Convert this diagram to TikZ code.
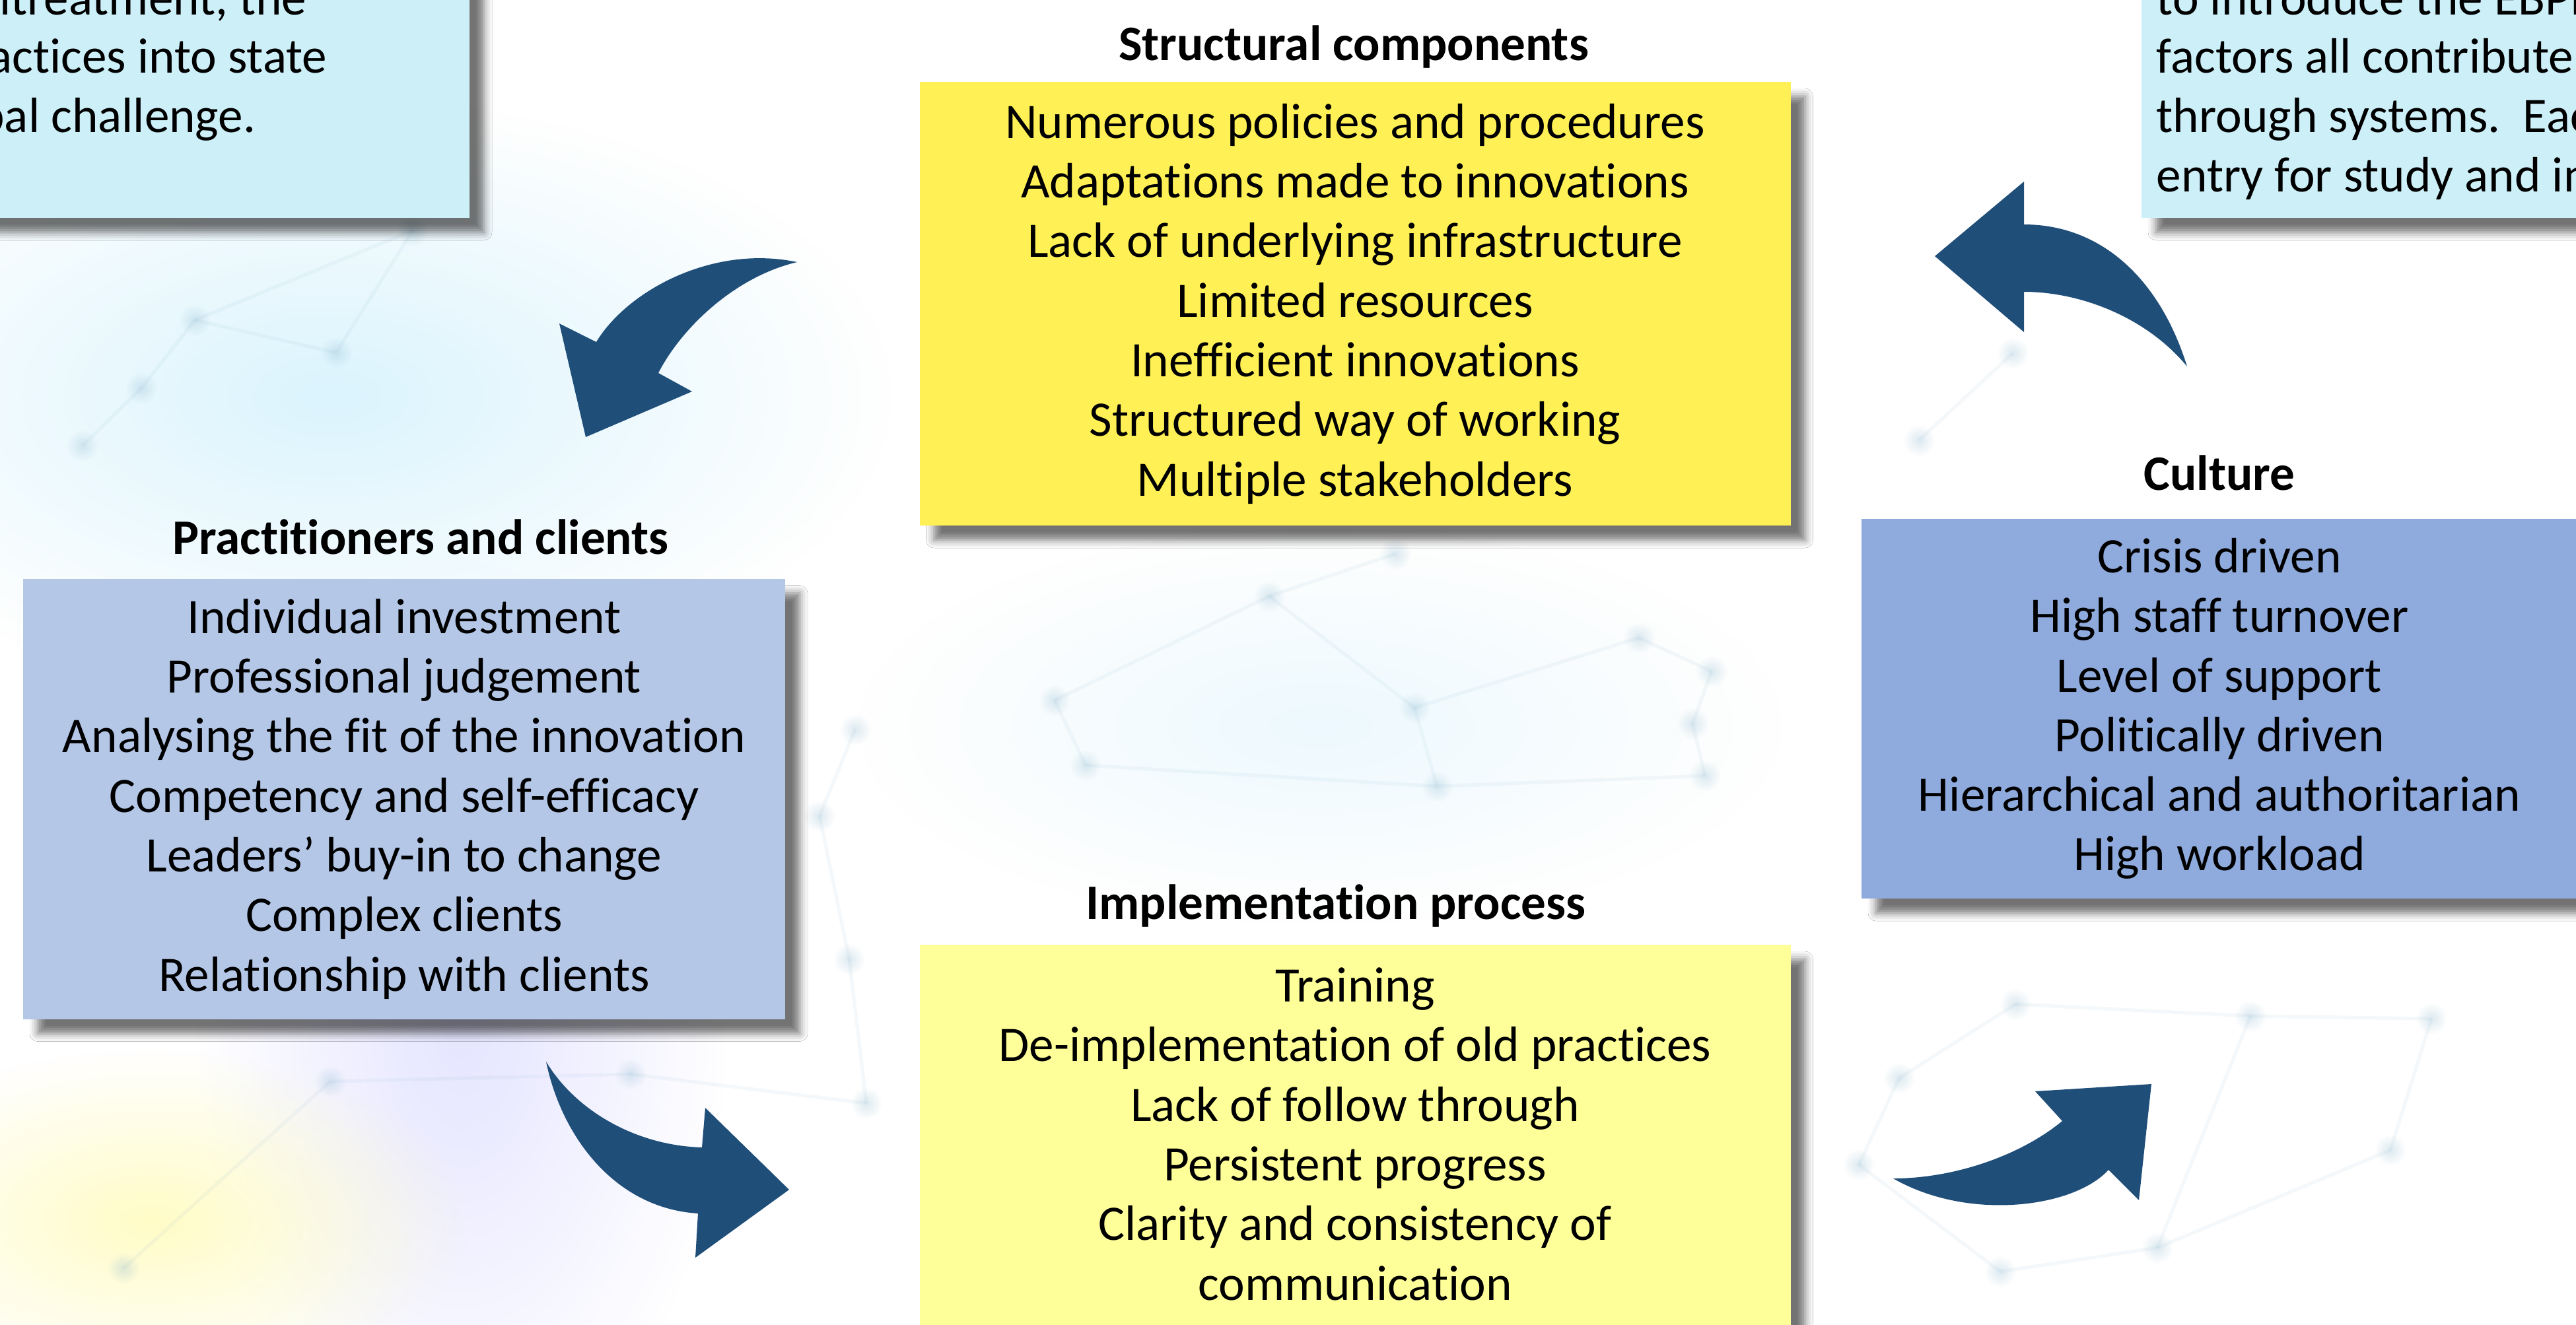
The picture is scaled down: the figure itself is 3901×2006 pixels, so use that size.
\documentclass[tikz,border=0pt]{standalone}
\usepackage{fontspec}
\setmainfont{Carlito}[Ligatures=NoCommon]
\usetikzlibrary{positioning,shadows.blur,fadings}

\definecolor{notecyan}{HTML}{CCEFF8}
\definecolor{structyellow}{HTML}{FFF155}
\definecolor{implyellow}{HTML}{FFFF99}
\definecolor{practblue}{HTML}{B4C7E7}
\definecolor{cultblue}{HTML}{8FAADC}
\definecolor{arrowblue}{HTML}{1F4E79}
\definecolor{netblue}{HTML}{8DB8CF}

\tikzfading[name=soft spot, inner color=transparent!0, outer color=transparent!100]

\newcommand{\boxfont}{\fontsize{21.4}{25.7}\selectfont}

\tikzset{
  factorbox/.style={draw=none, align=center, inner sep=0pt, font=\boxfont,
    blur shadow={shadow xshift=2.2mm, shadow yshift=-2.2mm, shadow blur radius=1.2mm, shadow opacity=55}},
  boxtitle/.style={font=\boxfont\bfseries, inner sep=0pt, anchor=base},
  noteline/.style={font=\boxfont, inner sep=0pt},
  bendarrow/.style={fill=arrowblue, draw=none},
  netline/.style={draw=netblue, line width=1.5pt, opacity=0.09},
  netdot/.style={fill=netblue, opacity=0.3, path fading=soft spot},
}

\begin{document}
\begin{tikzpicture}[x=0.1mm, y=-0.1mm]
  \useasboundingbox (0,0) rectangle (3901,2006);

  % background
  \fill[white] (0,0) rectangle (3901,2006);
  \fill[cyan!14, path fading=soft spot] (500,600) ellipse (850 and 450);
  \fill[blue!10, path fading=soft spot] (700,1550) ellipse (400 and 700);
  \fill[yellow!22, path fading=soft spot] (230,1850) ellipse (480 and 260);
  \fill[cyan!7, path fading=soft spot] (2000,1100) ellipse (700 and 300);

  \foreach \name/\px/\py in {n1/295/485, n2/509/534, n3/214/588, n4/125/675,
      n5/625/349, n6/1295/1105, n7/1241/1236, n8/1286/1453,
      n9/1312/1671, n10/500/1638, n11/187/1921, n12/955/1627,
      n13/1922/903, n14/1597/1061, n15/1644/1159, n16/2142/1072,
      n17/2176/1191, n18/2482/966, n19/2592/1017, n20/2563/1096,
      n21/2582/1175, n22/2113/839, n23/3052/1521, n24/3408/1539,
      n25/2876/1633, n26/2815/1764, n27/3267/1890, n28/3029/1926,
      n29/2906/667, n30/3048/535, n31/3682/1543, n32/3620/1742}
    \coordinate (\name) at (\px,\py);

  \foreach \a/\b in {n5/n1, n1/n2, n1/n3, n3/n4, n2/n5, n22/n13, n13/n14, n13/n16,
      n14/n15, n16/n17, n15/n17, n16/n18, n18/n19, n19/n20, n20/n21, n17/n21,
      n23/n24, n23/n25, n25/n26, n26/n28, n28/n27, n24/n27, n6/n7, n7/n8, n8/n9,
      n9/n12, n12/n10, n10/n11, n29/n30, n24/n31, n31/n32, n32/n27}
    \path[netline] (\a) -- (\b);

  \foreach \n in {1,...,32}
    \fill[netdot] (n\n) circle (24);

  % side notes
  \node[factorbox, fill=notecyan, minimum width=81.1mm, minimum height=43mm] (leftnote) at (305.5,115) {};
  \node[noteline, anchor=base east] (leftl1) at (465,22) {ltreatment, the};
  \node[noteline, anchor=base east] (leftl2) at (496,110) {actices into state};
  \node[noteline, anchor=base east] (leftl3) at (388,200) {bal challenge.};

  \node[factorbox, fill=notecyan, minimum width=85.7mm, minimum height=43mm] (rightnote) at (3671.5,115) {};
  \node[noteline, anchor=base west] (rightl1) at (3265,22) {to introduce the EBPr};
  \node[noteline, anchor=base west] (rightl2) at (3265,110) {factors all contribute};
  \node[noteline, anchor=base west] (rightl3) at (3265,200) {through systems.\ \ Eac};
  \node[noteline, anchor=base west] (rightl4) at (3265,290) {entry for study and in};

  % factor boxes
  \node[factorbox, fill=structyellow, minimum width=131.9mm, minimum height=67.2mm] (struct) at (2052,460)
    {Numerous policies and procedures\\ Adaptations made to innovations\\ Lack of underlying infrastructure\\
     Limited resources\\ Inefficient innovations\\ Structured way of working\\ Multiple stakeholders};
  \node[boxtitle] (structT) at (2050,91) {Structural components};

  \node[factorbox, fill=practblue, minimum width=115.4mm, minimum height=66.7mm] (pract) at (612,1210)
    {Individual investment\\ Professional judgement\\ Analysing the fit of the innovation\\
     Competency and self-efficacy\\ Leaders’ buy-in to change\\ Complex clients\\ Relationship with clients};
  \node[boxtitle] (practT) at (637,839) {Practitioners and clients};

  \node[factorbox, fill=cultblue, minimum width=108.4mm, minimum height=57.5mm] (cult) at (3361,1073.5)
    {Crisis driven\\ High staff turnover\\ Level of support\\ Politically driven\\
     Hierarchical and authoritarian\\ High workload};
  \node[boxtitle] (cultT) at (3361,742) {Culture};

  \node[factorbox, fill=implyellow, minimum width=131.9mm, minimum height=58.8mm] (impl) at (2052,1725)
    {Training\\ De-implementation of old practices\\ Lack of follow through\\ Persistent progress\\
     Clarity and consistency of\\ communication\rule[-1.5mm]{0pt}{1.5mm}};
  \node[boxtitle] (implT) at (2023,1392) {Implementation process};

  % curved arrows
  \fill[bendarrow] (1207,397) .. controls (1080,370) and (950,440) .. (903,518)
    -- (847,490) -- (887,662) -- (1048,593) -- (997,565)
    .. controls (1030,500) and (1110,420) .. cycle;
  \fill[bendarrow] (3312,555) .. controls (3270,420) and (3180,340) .. (3065,340)
    -- (3065,275) -- (2930,388) -- (3065,503) -- (3065,442)
    .. controls (3150,442) and (3250,480) .. cycle;
  \fill[bendarrow] (827,1608) .. controls (870,1680) and (960,1735) .. (1063,1738)
    -- (1068,1678) -- (1195,1802) -- (1053,1905) -- (1057,1838)
    .. controls (930,1830) and (850,1720) .. cycle;
  \fill[bendarrow] (2867,1785) .. controls (2960,1785) and (3060,1750) .. (3123,1698)
    -- (3082,1653) -- (3258,1642) -- (3239,1818) -- (3193,1772)
    .. controls (3140,1830) and (2980,1850) .. cycle;
\end{tikzpicture}
\end{document}
